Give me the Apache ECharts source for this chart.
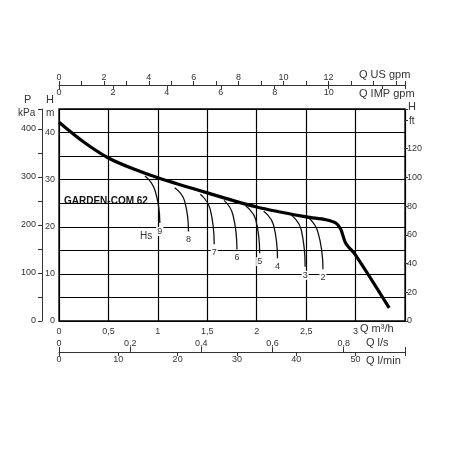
<!DOCTYPE html>
<html><head><meta charset="utf-8">
<script src="https://cdn.jsdelivr.net/npm/echarts@6/dist/echarts.min.js"></script>
<style>html,body{margin:0;padding:0;background:#fff}#c{width:450px;height:450px}</style>
</head><body><div id="c"></div>
<script>
const QMAX = 3.5, HMAX = 45;
const mainCurve = [[0,42.2],[0.25,38],[0.5,34.6],[0.75,32.3],[1,30.4],[1.5,27.2],[2,24.2],[2.5,22.1],[2.7,21.5],[2.8,20.8],[2.85,19.5],[2.9,16.5],[3.0,14],[3.34,2.8]];
const hsNames = ['9','8','7','6','5','4','3','2'];
const hsCurves = [
 [[0.87,30.8],[0.97,27.8],[1.02,20.8]],
 [[1.17,28.3],[1.27,25.5],[1.31,19]],
 [[1.43,26.9],[1.53,23.7],[1.57,16.3]],
 [[1.67,25.6],[1.76,22.5],[1.80,15.2]],
 [[1.89,24.4],[1.99,21.5],[2.03,14.4]],
 [[2.07,23.3],[2.17,20.4],[2.21,13.3]],
 [[2.35,22.5],[2.45,19.4],[2.49,11.5]],
 [[2.52,22.0],[2.62,18.8],[2.67,11.0]]
];
const F = 'Liberation Sans, Arial, sans-serif';
const lab = {fontFamily:F,fontSize:9,color:'#333'};
function fmtComma(v){return String(v).replace('.',',');}
const chart = echarts.init(document.getElementById('c'));
const series = [{type:'line',data:mainCurve,smooth:0.3,symbol:'none',lineStyle:{color:'#000',width:3.2},z:5,xAxisIndex:0,yAxisIndex:0}];
hsCurves.forEach((c,i)=>{
  const d = c.map((p,j)=> j===c.length-1 ? {value:p,label:{show:true,position:'bottom',distance:4,formatter:hsNames[i],fontFamily:F,fontSize:9,color:'#333',backgroundColor:'#fff',padding:[0,1]}} : p);
  series.push({type:'line',data:d,smooth:0.5,symbol:'circle',symbolSize:0.01,showSymbol:true,itemStyle:{color:'#111'},lineStyle:{color:'#111',width:1.3},xAxisIndex:0,yAxisIndex:0});
});
const gt = (x,y,t,o)=>Object.assign({type:'text',left:x,top:y,style:Object.assign({text:t,font:'10px '+F,fill:'#333'},o||{})});
const line = {show:true,onZero:false,lineStyle:{color:'#333'}};
chart.setOption({
 animation:false,
 grid:{left:59,right:45,top:109,bottom:129,show:true,borderColor:'#000',borderWidth:1.3},
 xAxis:[
  {type:'value',min:0,max:QMAX,interval:0.5,position:'bottom',axisLine:{show:false,onZero:false},axisTick:{show:false},
   splitLine:{lineStyle:{color:'#000',width:1.2}},axisLabel:Object.assign({},lab,{margin:6,formatter:v=>v>3.2?'':fmtComma(v)})},
  {type:'value',min:0,max:QMAX/0.2271,interval:2,position:'top',offset:24,axisLine:line,
   axisTick:{length:4,lineStyle:{color:'#333'}},minorTick:{show:true,splitNumber:2,length:4,lineStyle:{color:'#333'}},splitLine:{show:false},
   axisLabel:Object.assign({},lab,{margin:3,formatter:v=>v>13?'':String(v)})},
  {type:'value',min:0,max:QMAX/0.2728,interval:2,position:'top',offset:24,axisLine:{show:false,onZero:false},
   axisTick:{inside:true,length:4,lineStyle:{color:'#333'}},splitLine:{show:false},
   axisLabel:Object.assign({},lab,{inside:true,margin:3,formatter:v=>v>11?'':String(v)})},
  {type:'value',min:0,max:QMAX/3.6,interval:0.2,position:'bottom',offset:31,axisLine:{show:false,onZero:false},
   axisTick:{inside:true,length:5,lineStyle:{color:'#333'}},splitLine:{show:false},
   axisLabel:Object.assign({},lab,{inside:true,margin:4,formatter:v=>v>0.85?'':fmtComma(v)})},
  {type:'value',min:0,max:QMAX*1000/60,interval:10,position:'bottom',offset:31,axisLine:line,
   axisTick:{length:4,lineStyle:{color:'#333'}},splitLine:{show:false},
   axisLabel:Object.assign({},lab,{margin:3,formatter:v=>v>55?'':String(v)})}
 ],
 yAxis:[
  {type:'value',min:0,max:HMAX,interval:5,position:'left',axisLine:{show:false,onZero:false},axisTick:{show:false},
   splitLine:{lineStyle:{color:'#000',width:1.2}},
   axisLabel:Object.assign({},lab,{margin:4,formatter:v=>(v%10===0&&v<45)?String(v):''})},
  {type:'value',min:0,max:HMAX*9.81,interval:50,position:'left',offset:17,axisLine:line,
   axisTick:{show:true,length:4,lineStyle:{color:'#333'}},splitLine:{show:false},
   axisLabel:Object.assign({},lab,{margin:6,formatter:v=>v%100===0?String(v):''})},
  {type:'value',min:0,max:HMAX*3.2808,interval:20,position:'right',axisLine:{show:false,onZero:false},
   axisTick:{show:true,length:3,lineStyle:{color:'#333'}},splitLine:{show:false},
   axisLabel:Object.assign({},lab,{margin:2,formatter:v=>v>130?'':String(v)})}
 ],
 graphic:[
  gt(359,69,'Q US gpm',{font:'11px '+F}),
  gt(359,88,'Q IMP gpm',{font:'11px '+F}),
  gt(24,94,'P',{font:'11px '+F}),
  gt(18,108,'kPa',{font:'10px '+F}),
  gt(46,94,'H',{font:'11px '+F}),
  gt(46,108,'m',{font:'10px '+F}),
  gt(408,101,'H',{font:'11px '+F}),
  gt(409,116,'ft',{font:'10px '+F}),
  gt(360,323,'Q m³/h',{font:'11px '+F}),
  gt(366,337,'Q l/s',{font:'11px '+F}),
  gt(366,355,'Q l/min',{font:'11px '+F}),
  gt(64,196,'GARDEN-COM 62',{font:'bold 10px '+F,fill:'#111',backgroundColor:'#fff'}),
  gt(140,231,'Hs',{font:'10px '+F,backgroundColor:'#fff'})
 ],
 series:series
});
</script></body></html>
